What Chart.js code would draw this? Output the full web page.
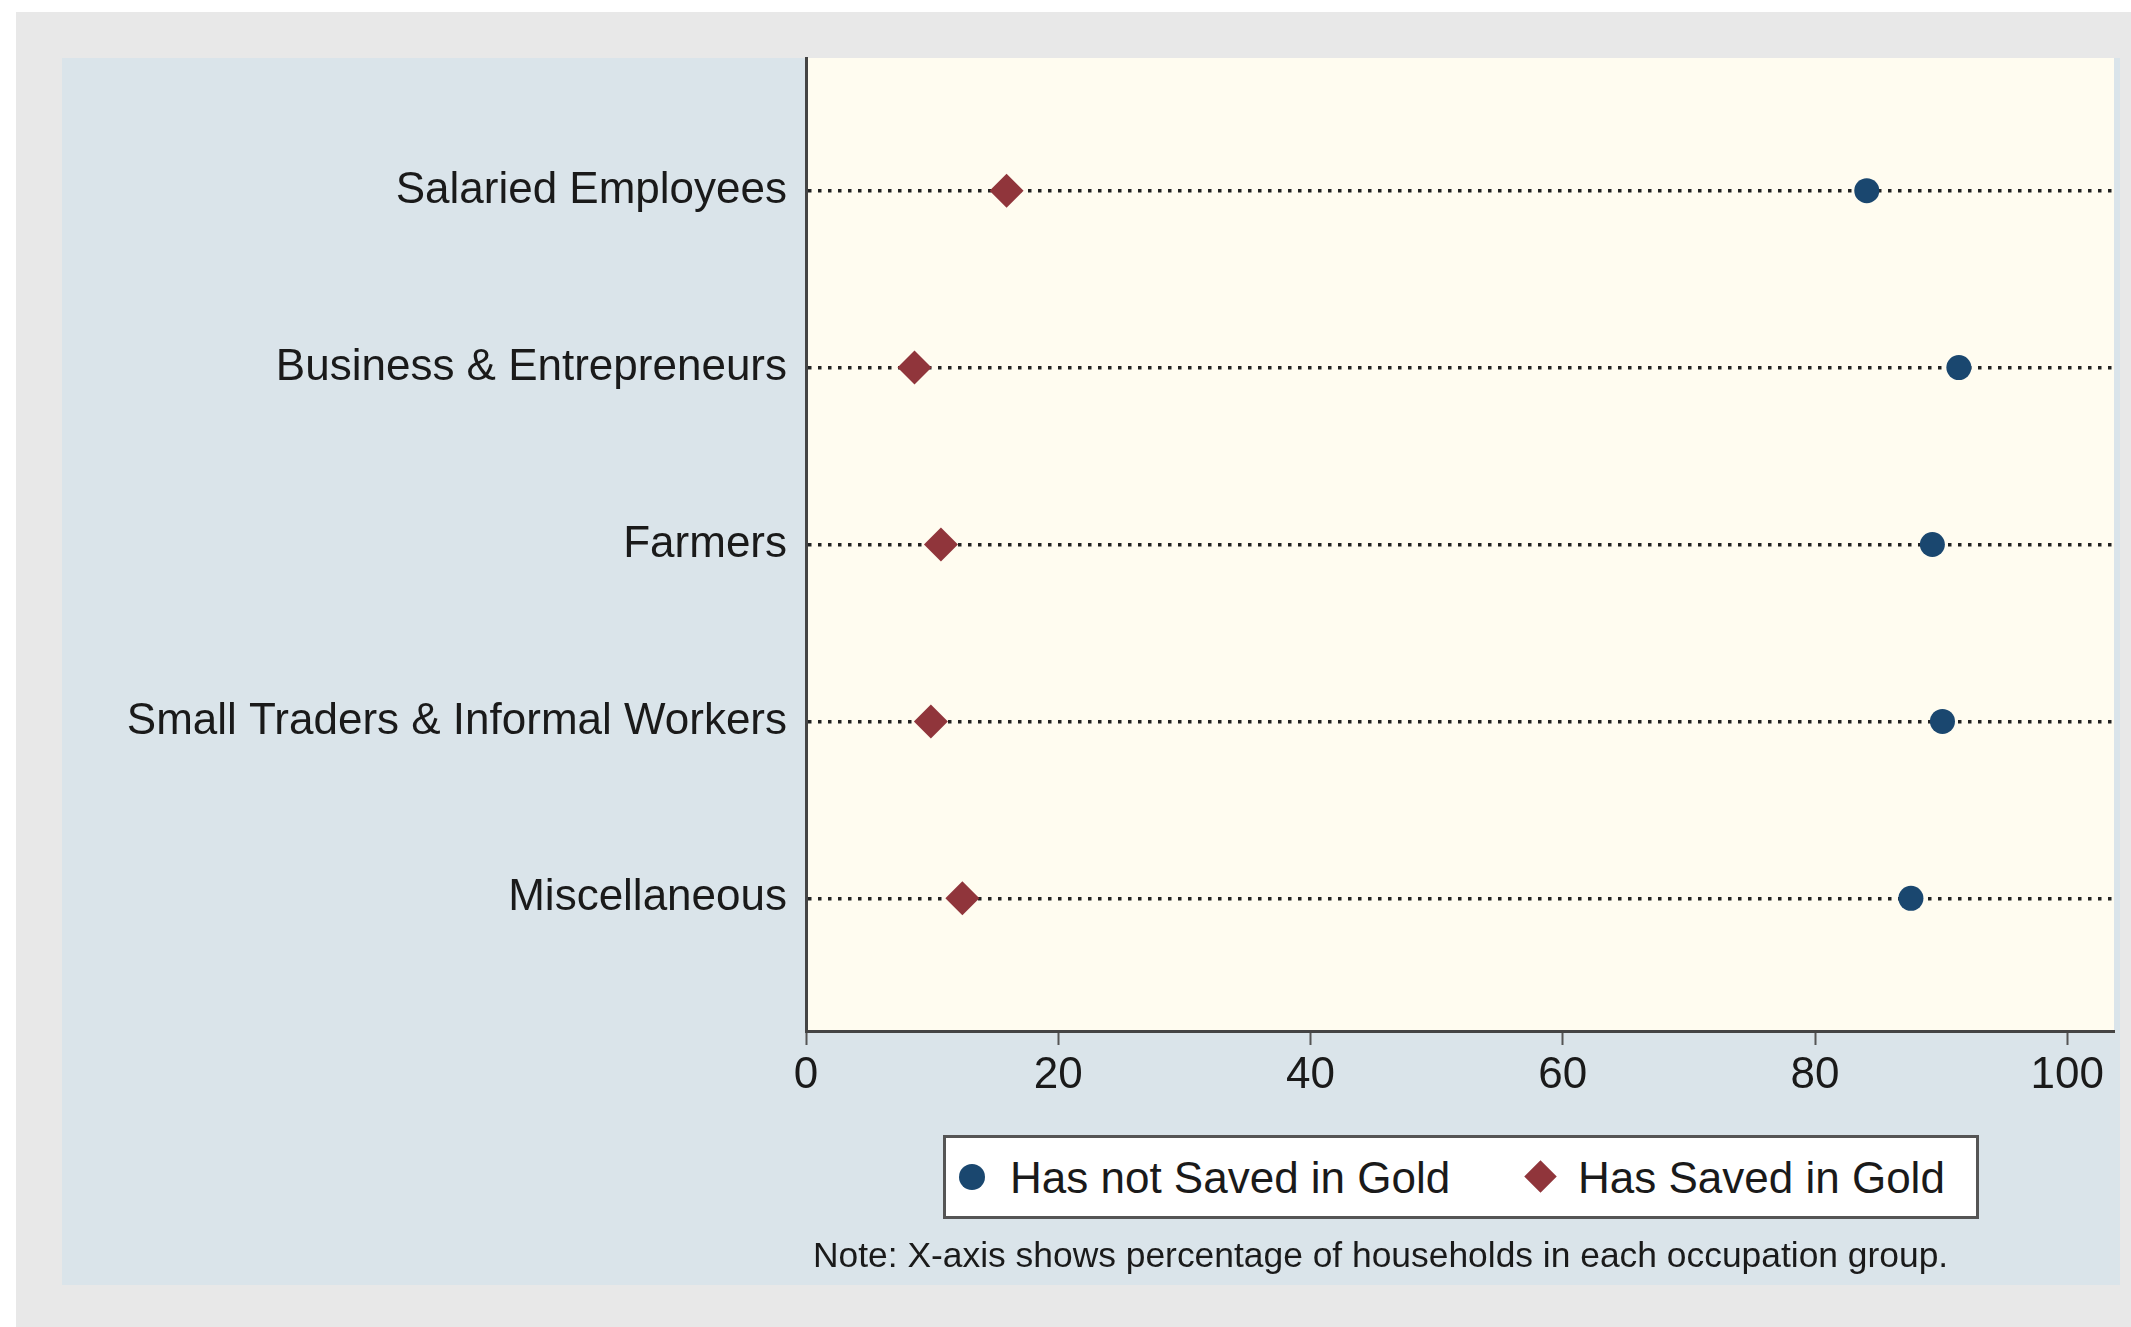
<!DOCTYPE html>
<html>
<head>
<meta charset="utf-8">
<script src="https://cdn.jsdelivr.net/npm/chart.js@4.4.1/dist/chart.umd.min.js"></script>
<style>
  html, body { margin: 0; padding: 0; background: #ffffff; }
  body { width: 2131px; height: 1327px; position: relative; overflow: hidden;
         font-family: "Liberation Sans", Arial, sans-serif; color: #1a1a1a; }
  #outer { position: absolute; left: 16px; top: 12px; right: 0; bottom: 0; background: #e8e8e8; }
  #panel { position: absolute; left: 62px; top: 58px; width: 2058px; height: 1227px; background: #dae4ea; }
  #chart { position: absolute; left: 0; top: 0; }
  #legend { position: absolute; left: 943px; top: 1135px; width: 1036px; height: 84px;
            box-sizing: border-box; border: 3px solid #555; background: #ffffff; }
  .lg-text { position: absolute; top: 18px; font-size: 44px; line-height: 44px; white-space: nowrap; }
  .lg-dot { position: absolute; width: 26px; height: 26px; border-radius: 50%; background: #1a476f; }
  .lg-diamond { position: absolute; width: 23px; height: 23px; background: #90353b; transform: rotate(45deg); }
  #note { position: absolute; left: 813px; top: 1237px; font-size: 35.4px; line-height: 36px; white-space: nowrap; }
</style>
</head>
<body>
<div id="outer"></div>
<div id="panel"></div>
<canvas id="chart" width="2131" height="1327"></canvas>
<div id="legend">
  <span class="lg-dot" style="left:13px; top:26px;"></span>
  <span class="lg-text" style="left:64px;">Has not Saved in Gold</span>
  <span class="lg-diamond" style="left:583px; top:27px;"></span>
  <span class="lg-text" style="left:632px;">Has Saved in Gold</span>
</div>
<div id="note">Note: X-axis shows percentage of households in each occupation group.</div>

<script>
const categories = [
  "Salaried Employees",
  "Business & Entrepreneurs",
  "Farmers",
  "Small Traders & Informal Workers",
  "Miscellaneous"
];
const notSavedInGold = [84.1, 91.4, 89.3, 90.1, 87.6];
const savedInGold = [15.9, 8.6, 10.7, 9.9, 12.4];
const xTickValues = [0, 20, 40, 60, 80, 100];

const LABEL_FONT = { family: "'Liberation Sans', Arial, sans-serif", size: 44 };

// cream background behind the plot region only
const plotBackground = {
  id: "plotBackground",
  beforeDraw(chart) {
    const { ctx, chartArea } = chart;
    ctx.save();
    ctx.fillStyle = "#fffcf0";
    ctx.fillRect(chartArea.left, chartArea.top, chartArea.right - chartArea.left, chartArea.bottom - chartArea.top);
    ctx.restore();
  }
};

function toPoints(values) {
  return values.map((v, i) => ({ x: v, y: i }));
}

const ctx = document.getElementById("chart").getContext("2d");
const chart = new Chart(ctx, {
  type: "scatter",
  data: {
    datasets: [
      {
        label: "Has not Saved in Gold",
        data: toPoints(notSavedInGold),
        pointStyle: "circle",
        pointRadius: 12.5,
        backgroundColor: "#1a476f",
        borderWidth: 0
      },
      {
        label: "Has Saved in Gold",
        data: toPoints(savedInGold),
        pointStyle: "rectRot",
        pointRadius: 17,
        backgroundColor: "#90353b",
        borderWidth: 0
      }
    ]
  },
  options: {
    responsive: false,
    devicePixelRatio: 1,
    animation: false,
    layout: { padding: { left: 0, top: 58, right: 12, bottom: 0 } },
    plugins: {
      legend: { display: false },
      tooltip: { enabled: false }
    },
    scales: {
      x: {
        type: "linear",
        min: 0,
        max: 103.7,
        afterBuildTicks: axis => { axis.ticks = xTickValues.map(v => ({ value: v })); },
        afterFit: axis => { axis.height = 296; },
        ticks: { font: LABEL_FONT, color: "#1a1a1a", padding: 4, autoSkip: false, maxRotation: 0 },
        grid: { drawOnChartArea: false, drawTicks: true, tickLength: 14, tickWidth: 2, tickColor: "#555" },
        border: { display: true, color: "#444", width: 3 }
      },
      y: {
        type: "linear",
        reverse: true,
        min: -0.75,
        max: 4.75,
        afterBuildTicks: axis => { axis.ticks = categories.map((c, i) => ({ value: i })); },
        afterFit: axis => { axis.width = 806; },
        ticks: {
          font: LABEL_FONT,
          color: "#1a1a1a",
          padding: 19,
          autoSkip: false,
          callback: value => categories[value] ?? ""
        },
        grid: { drawTicks: false, tickLength: 0, color: "#222", lineWidth: 3.5 },
        border: { display: true, color: "#444", width: 3, dash: [3.5, 6.5] }
      }
    }
  },
  plugins: [plotBackground]
});
</script>
</body>
</html>
